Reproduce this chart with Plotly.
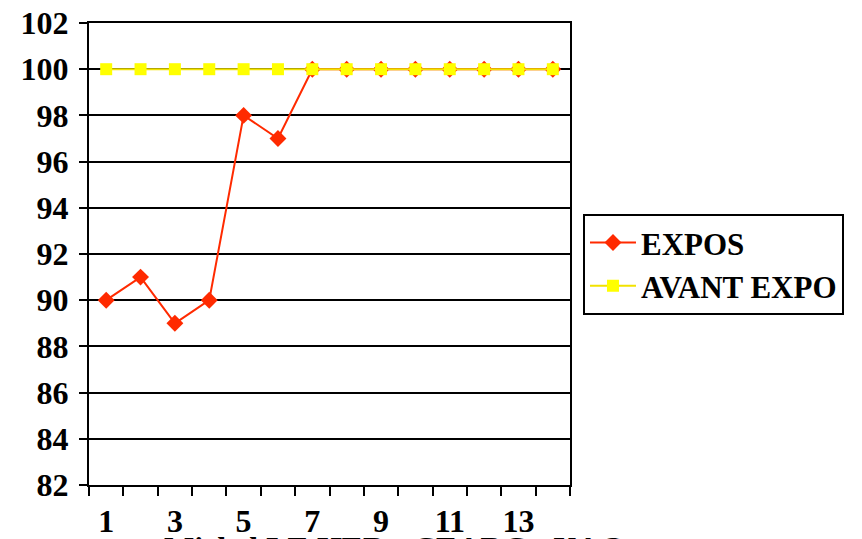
import plotly.graph_objects as go

# Series values per sample
samples = list(range(1, 15))
expos = [90, 91, 89, 90, 98, 97, 100, 100, 100, 100, 100, 100, 100, 100]
avant_expo = [100] * 14
x_tick_labels = [1, 3, 5, 7, 9, 11, 13]
y_ticks = list(range(82, 103, 2))

font_family = "Liberation Serif"

fig = go.Figure()

fig.add_trace(go.Scatter(
    x=samples, y=expos, name="EXPOS", mode="lines+markers",
    line=dict(color="#FF2A00", width=2),
    marker=dict(symbol="diamond", size=13, color="#FF2A00"),
    xaxis="x", yaxis="y",
))
fig.add_trace(go.Scatter(
    x=samples, y=avant_expo, name="AVANT EXPO", mode="lines+markers",
    line=dict(color="#F2E200", width=2),
    marker=dict(symbol="square", size=12, color="#FFFF00"),
    xaxis="x", yaxis="y",
))
# invisible carrier for the category labels axis
fig.add_trace(go.Scatter(
    x=[1, 14], y=[82, 82], mode="markers", marker=dict(opacity=0),
    showlegend=False, hoverinfo="skip", xaxis="x2", yaxis="y",
))

bold = dict(family=font_family, size=32, color="black", weight="bold")

fig.update_layout(
    width=862, height=539,
    margin=dict(l=89, r=292, t=23, b=54, autoexpand=False),
    paper_bgcolor="white", plot_bgcolor="white",
    font=bold,
    showlegend=True,
    legend=dict(
        x=1.027, y=0.587, xanchor="left", yanchor="top",
        bordercolor="black", borderwidth=2, bgcolor="white",
        font=dict(family=font_family, size=31, color="black", weight="bold"),
        itemwidth=46, tracegroupgap=0,
    ),
    xaxis=dict(
        range=[0.5, 14.5], tick0=0.5, dtick=1, showticklabels=False,
        ticks="outside", ticklen=9, tickwidth=2, tickcolor="black",
        showgrid=False, zeroline=False, automargin=False,
        showline=True, linecolor="black", linewidth=2, mirror=True,
    ),
    xaxis2=dict(
        range=[0.5, 14.5], overlaying="x", anchor="y", side="bottom",
        tickmode="array", tickvals=x_tick_labels,
        ticktext=[str(v) for v in x_tick_labels],
        ticks="", showgrid=False, zeroline=False, showline=False,
        ticklabelstandoff=14, tickfont=bold, automargin=False,
    ),
    yaxis=dict(
        range=[82, 102], tickmode="array", tickvals=y_ticks,
        ticks="outside", ticklen=8, tickwidth=2, tickcolor="black",
        showgrid=True, gridcolor="black", gridwidth=1.5,
        zeroline=False, automargin=False,
        showline=True, linecolor="black", linewidth=2, mirror=True,
        tickfont=bold, ticklabelstandoff=4,
    ),
    annotations=[dict(
        text="Michel LE HER - CEARC - UAG",
        xref="paper", yref="paper", x=0.636, y=-0.0935,
        xanchor="center", yanchor="top", showarrow=False,
        font=bold,
    )],
)

fig.write_html("out.html")
